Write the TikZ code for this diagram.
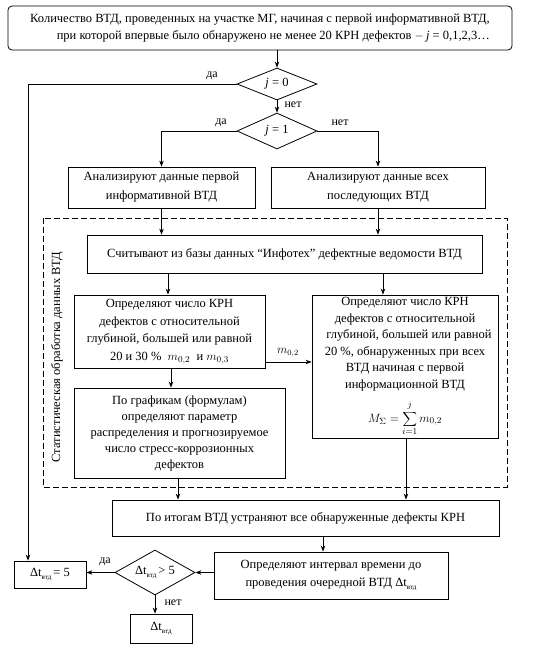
\documentclass[tikz,border=0pt]{standalone}
\usepackage{fontspec}
\setmainfont{Liberation Serif}
\usetikzlibrary{shapes.geometric,arrows.meta,calc}
\newcommand{\lowsub}[1]{\raisebox{-0.45ex}{\scriptsize #1}}
\begin{document}
\begin{tikzpicture}[x=1pt,y=-1pt,
  every node/.style={font=\fontsize{12.5}{19}\selectfont},
  box/.style={draw,line width=0.8pt,inner sep=2pt,align=center},
  dia/.style={draw,line width=0.8pt,diamond,aspect=2.4,inner sep=0pt},
  lbl/.style={font=\fontsize{12}{14}\selectfont},
  conn/.style={line width=0.8pt,-{Stealth[length=6pt,width=4.5pt]}},
  plain/.style={line width=0.8pt}]
\useasboundingbox (0,0) rectangle (545,651);
% top box
\node[draw,line width=0.8pt,inner sep=2pt,align=right,rounded corners=4pt,minimum width=504pt,minimum height=44pt,
  font=\fontsize{12.5}{17}\selectfont] (top) at (260,28)
  {Количество ВТД, проведенных на участке МГ, начиная с первой информативной ВТД,\\
   при которой впервые было обнаружено не менее 20 КРН дефектов $-$\,\textit{j} = 0,1,2,3…};
\node[dia,minimum width=80pt,minimum height=32pt] (d0) at (277,84) {\textit{j} = 0};
\node[dia,minimum width=80pt,minimum height=36pt] (d1) at (277,131) {\textit{j} = 1};
\node[box,minimum width=187pt,minimum height=41pt] (bL) at (161.5,187.5)
  {Анализируют данные первой\\информативной ВТД};
\node[box,minimum width=214pt,minimum height=41pt] (bR) at (378,187.5)
  {Анализируют данные всех\\последующих ВТД};
% dashed frame
\draw[line width=0.8pt,dash pattern=on 6pt off 3pt] (43,218) rectangle (507,487);
\node[rotate=90] (vlab) at (57,357) {Статистическая обработка данных ВТД};
\node[box,minimum width=395pt,minimum height=38pt] (read) at (284.5,254)
  {Считывают из базы данных “Инфотех” дефектные ведомости ВТД};
\node[box,minimum width=191pt,minimum height=73pt,font=\fontsize{12.5}{17.7}\selectfont] (cL) at (169.5,331.5)
  {Определяют число КРН\\дефектов с относительной\\глубиной, большей или равной\\20 и 30 \%\ \ $m_{0,2}$\ \ и $m_{0,3}$};
\node[box,minimum width=186pt,minimum height=143pt,font=\fontsize{12.5}{16.5}\selectfont] (cR) at (405,366.5)
  {Определяют число КРН\\дефектов с относительной\\\hspace*{8pt}глубиной, большей или равной\\20 \%, обнаруженных при всех\\ВТД начиная с первой\\информационной ВТД\\[9pt]
   $\displaystyle M_{\Sigma}=\sum_{i=1}^{\raisebox{1.5pt}{$\scriptstyle j$}} m_{0,2}$};
\node[box,minimum width=211pt,minimum height=90pt,font=\fontsize{12.5}{16}\selectfont] (gL) at (179.5,433)
  {По графикам (формулам)\\определяют параметр\\распределения и прогнозируемое\\число стресс-коррозионных\\дефектов};
\node[box,minimum width=387pt,minimum height=36pt] (fin) at (305.5,518)
  {По итогам ВТД устраняют все обнаруженные дефекты КРН};
\node[box,minimum width=234pt,minimum height=47pt,font=\fontsize{12.5}{18}\selectfont] (intv) at (331,575.5)
  {Определяют интервал времени до\\проведения очередной ВТД Δt\lowsub{втд}};
\node[dia,minimum width=80pt,minimum height=45pt] (d2) at (155,572.5) {Δt\lowsub{втд}\,> 5};
\node[box,minimum width=72pt,minimum height=27pt] (t5) at (50,574.5) {Δt\lowsub{втд}\,= 5};
\node[box,minimum width=62pt,minimum height=29pt] (tv) at (161,628.5) {Δt\lowsub{втд}};
% coordinates
\coordinate (lx) at (28,0);
% connectors
\draw[conn] (d0.north |- top.south) -- (d0.north);
\draw[conn] (d0.south) -- (d1.north);
\node[lbl] (l0n) at (293,105) {нет};
\draw[conn] (d0.west) -- (lx |- d0.west) -- (lx |- t5.north);
\node[lbl] (l0y) at (212,76) {да};
\draw[conn] (d1.west) -| (bL.north);
\node[lbl] (l1y) at (221,123) {да};
\draw[conn] (d1.east) -| (bR.north);
\node[lbl] (l1n) at (340,123) {нет};
\draw[conn] (bL.south) -- (bL.south |- read.north);
\draw[conn] (bR.south) -- (bR.south |- read.north);
\coordinate (xa) at (168,0);
\coordinate (xb) at (383,0);
\draw[conn] (xa |- read.south) -- (xa |- cL.north);
\draw[conn] (xb |- read.south) -- (xb |- cR.north);
\coordinate (ym) at (0,362);
\draw[conn] (cL.east |- ym) -- (cR.west |- ym);
\node[lbl] (lm) at (288,353) {$m_{0,2}$};
\coordinate (xc) at (171,0);
\draw[conn] (xc |- cL.south) -- (xc |- gL.north);
\coordinate (xd) at (178,0);
\draw[conn] (xd |- gL.south) -- (xd |- fin.north);
\coordinate (xe) at (406,0);
\draw[conn] (xe |- cR.south) -- (xe |- fin.north);
\coordinate (xf) at (323,0);
\draw[conn] (xf |- fin.south) -- (xf |- intv.north);
\draw[conn] (intv.west |- d2.east) -- (d2.east);
\draw[conn] (d2.west) -- (t5.east |- d2.west);
\node[lbl] (l2y) at (105,562) {да};
\draw[conn] (d2.south) -- (d2.south |- tv.north);
\node[lbl] (l2n) at (173,603) {нет};
\end{tikzpicture}
\end{document}
